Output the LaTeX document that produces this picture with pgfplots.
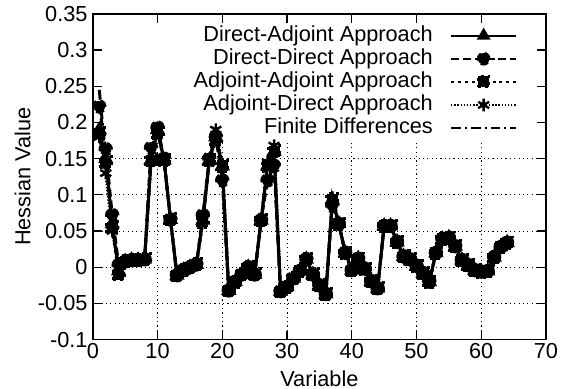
\documentclass[border=0pt]{standalone}
\usepackage{fontspec}
\setmainfont{Liberation Sans}
\usepackage{pgfplots}
\pgfplotsset{compat=1.18}
\usepackage{pgfplotstable}
\pgfplotstableread{
x da dd aa ad fd
1 0.190 0.222 0.185 0.180 0.245
2 0.150 0.163 0.145 0.130 0.150
3 0.060 0.072 0.055 0.050 0.060
4 -0.005 0.003 -0.010 0.000 -0.005
5 0.008 0.008 0.008 0.008 0.008
6 0.010 0.010 0.010 0.010 0.010
7 0.010 0.010 0.010 0.010 0.010
8 0.011 0.011 0.011 0.011 0.011
9 0.148 0.165 0.148 0.148 0.148
10 0.190 0.193 0.185 0.190 0.190
11 0.148 0.150 0.148 0.148 0.148
12 0.066 0.066 0.066 0.066 0.066
13 -0.011 -0.011 -0.011 -0.011 -0.011
14 -0.004 -0.004 -0.004 -0.004 -0.004
15 0.000 0.000 0.000 0.000 0.000
16 0.004 0.004 0.004 0.004 0.004
17 0.065 0.072 0.063 0.065 0.065
18 0.148 0.150 0.148 0.148 0.148
19 0.180 0.180 0.175 0.190 0.180
20 0.140 0.120 0.140 0.140 0.140
21 -0.032 -0.032 -0.032 -0.032 -0.032
22 -0.020 -0.020 -0.020 -0.020 -0.020
23 -0.010 -0.010 -0.010 -0.010 -0.010
24 0.000 0.000 0.000 0.000 0.000
25 -0.010 -0.010 -0.010 -0.010 -0.010
26 0.065 0.065 0.065 0.065 0.065
27 0.140 0.120 0.140 0.145 0.140
28 0.160 0.140 0.160 0.168 0.160
29 -0.033 -0.033 -0.033 -0.033 -0.033
30 -0.027 -0.027 -0.027 -0.027 -0.027
31 -0.015 -0.015 -0.015 -0.015 -0.015
32 -0.005 -0.005 -0.005 -0.005 -0.005
33 0.011 0.011 0.011 0.011 0.011
34 -0.010 -0.010 -0.010 -0.010 -0.010
35 -0.025 -0.025 -0.025 -0.025 -0.025
36 -0.037 -0.037 -0.037 -0.037 -0.037
37 0.093 0.085 0.094 0.096 0.093
38 0.060 0.060 0.060 0.060 0.060
39 0.020 0.020 0.020 0.020 0.020
40 -0.004 -0.004 -0.004 -0.004 -0.004
41 0.012 0.012 0.012 0.012 0.012
42 -0.002 -0.002 -0.002 -0.002 -0.002
43 -0.019 -0.019 -0.019 -0.019 -0.019
44 -0.029 -0.029 -0.029 -0.029 -0.029
45 0.057 0.057 0.057 0.057 0.057
46 0.057 0.057 0.057 0.057 0.057
47 0.035 0.035 0.035 0.035 0.035
48 0.015 0.015 0.015 0.015 0.015
49 0.011 0.011 0.011 0.011 0.011
50 0.002 0.002 0.002 0.002 0.002
51 -0.008 -0.008 -0.008 -0.008 -0.008
52 -0.020 -0.020 -0.020 -0.020 -0.020
53 0.020 0.020 0.020 0.020 0.020
54 0.039 0.039 0.039 0.039 0.039
55 0.041 0.041 0.041 0.041 0.041
56 0.029 0.029 0.029 0.029 0.029
57 0.010 0.010 0.010 0.010 0.010
58 0.003 0.003 0.003 0.003 0.003
59 -0.004 -0.004 -0.004 -0.004 -0.004
60 -0.006 -0.006 -0.006 -0.006 -0.006
61 -0.005 -0.005 -0.005 -0.005 -0.005
62 0.014 0.014 0.014 0.014 0.014
63 0.028 0.028 0.028 0.028 0.028
64 0.034 0.034 0.034 0.034 0.034
}\datatable

\begin{document}
\fontsize{11}{13}\selectfont
\begin{tikzpicture}
\begin{axis}[
  scale only axis, width=229.5pt, height=165pt,
  xmin=0, xmax=70, ymin=-0.1, ymax=0.35,
  xtick={0,10,20,30,40,50,60,70},
  ytick={-0.1,-0.05,0,0.05,0.1,0.15,0.2,0.25,0.3,0.35},
  yticklabels={-0.1,-0.05,0,0.05,0.1,0.15,0.2,0.25,0.3,0.35},
  /pgf/number format/assume math mode=true,
  ticklabel style={font=\fontsize{11}{13}\selectfont},
  xticklabel style={inner sep=1.5pt},
  yticklabel style={inner sep=2.5pt},
  label style={font=\fontsize{11}{13}\selectfont},
  xlabel={Variable}, ylabel={Hessian Value},
  xlabel style={inner sep=1pt, yshift=-3.5pt},
  ylabel style={inner sep=1pt},
  major tick length=4.5pt,
  tick style={black, line width=0.6pt},
  axis line style={black, line width=0.8pt},
  every axis plot/.append style={black, line width=1.5pt},
  every mark/.append style={solid},
  legend cell align=right, legend plot pos=right,
  legend image code/.code={\draw[mark repeat=2,mark phase=2, line width=1.1pt] plot coordinates {(0pt,0pt) (16.5pt,0pt) (33pt,0pt)};},
  legend style={at={(1,1)}, anchor=north east, xshift=-14.3pt, yshift=-5pt,
    draw=none, fill=none, inner sep=0pt, row sep=0pt, column sep=8pt,
    nodes={inner sep=0.7pt, text height=8pt, text depth=2.3pt},
    font=\fontsize{11}{13}\selectfont},
]
% grid (visible only below the key area)
\foreach \yy in {-0.05,0,0.05,0.1,0.15} {
  \edef\tmp{\noexpand\draw[black, line width=0.5pt, dash pattern=on 0.6pt off 1.6pt] (axis cs:0,\yy) -- (axis cs:70,\yy);}\tmp
}
\foreach \xx in {10,20,30,40,50,60} {
  \edef\tmp{\noexpand\draw[black, line width=0.5pt, dash pattern=on 0.6pt off 1.6pt] (axis cs:\xx,-0.1) -- (axis cs:\xx,0.172);}\tmp
}
\addplot[solid, mark=triangle*, mark size=3pt] table[x=x, y=da] {\datatable};
\addlegendentry{Direct-Adjoint Approach}
\addplot[dash pattern=on 4pt off 2pt, mark=*, mark size=2.9pt] table[x=x, y=dd] {\datatable};
\addlegendentry{Direct-Direct Approach}
\addplot[dash pattern=on 1.5pt off 2pt, mark=square*, mark size=2.8pt] table[x=x, y=aa] {\datatable};
\addlegendentry{Adjoint-Adjoint Approach}
\addplot[dash pattern=on 0.7pt off 0.9pt, mark=asterisk, mark size=3.2pt, mark options={solid, line width=1.2pt}] table[x=x, y=ad] {\datatable};
\addlegendentry{Adjoint-Direct Approach}
\addplot[dash pattern=on 5pt off 2pt on 1pt off 2pt, no marks] table[x=x, y=fd] {\datatable};
\addlegendentry{Finite Differences}
\end{axis}
\path ([xshift=-47pt,yshift=-25pt]current axis.south west) rectangle ([xshift=4pt,yshift=7pt]current axis.north east);
\end{tikzpicture}
\end{document}
